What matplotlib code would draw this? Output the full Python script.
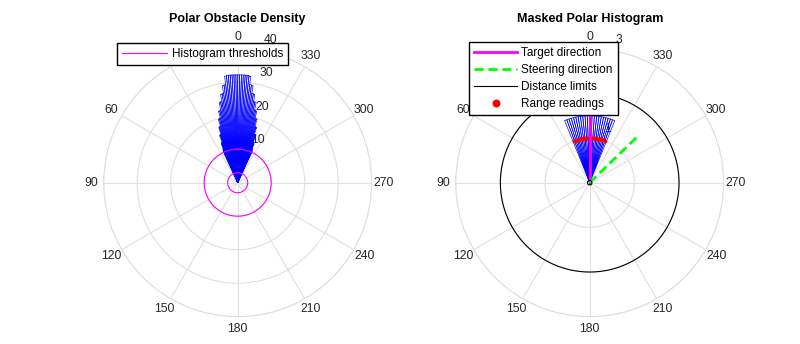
import numpy as np
import matplotlib.pyplot as plt

plt.rcParams['font.family'] = ['Liberation Sans', 'DejaVu Sans']

# polar obstacle density, 1 degree sectors (centres in degrees)
density_angles = [-24.5, -23.5, -22.5, -21.5, -20.5, -19.5, -18.5, -17.5, -16.5, -15.5,
                  -14.5, -13.5, -12.5, -11.5, -10.5, -9.5, -8.5, -7.5, -6.5, -5.5,
                  -4.5, -3.5, -2.5, -1.5, -0.5, 0.5, 1.5, 2.5, 3.5, 4.5,
                  5.5, 6.5, 7.5, 8.5, 9.5, 10.5, 11.5, 12.5, 13.5, 14.5,
                  15.5, 16.5, 17.5, 18.5, 19.5, 20.5, 21.5, 22.5, 23.5, 24.5]
density_values = [10.4, 11.0, 12.6, 13.0, 15.1, 15.3, 17.4, 17.6, 19.8, 20.0,
                  22.1, 22.3, 24.5, 24.7, 26.8, 27.0, 29.3, 29.5, 32.0, 32.2,
                  32.2, 32.2, 32.2, 32.2, 32.2, 32.2, 32.2, 32.2, 32.2, 32.2,
                  32.2, 32.0, 29.5, 29.3, 27.0, 26.8, 24.7, 24.5, 22.3, 22.1,
                  20.0, 19.8, 17.6, 17.4, 15.3, 15.1, 13.0, 12.6, 11.0, 10.4]
hist_thresholds = [3, 10]

# masked (binary) histogram, 2 degree sectors
masked_angles = [-21, -19, -17, -15, -13, -11, -9, -7, -5, -3, -1,
                 1, 3, 5, 7, 9, 11, 13, 15, 17, 19, 21]
masked_values = [1, 1, 1, 1, 1, 1, 1, 1, 1, 1, 1,
                 1, 1, 1, 1, 1, 1, 1, 1, 1, 1, 1]

# range readings
reading_angles = [-20, -19, -18, -17, -16, -15, -14, -13, -12, -11, -10, -9, -8, -7,
                  -6, -5, -4, -3, -2, -1, 0, 1, 2, 3, 4, 5, 6, 7, 8, 9, 10, 11, 12,
                  13, 14, 15, 16, 17, 18, 19, 20]
reading_ranges = [1.0, 1.0, 1.0, 1.0, 1.0, 1.0, 1.0, 1.0, 1.0, 1.0, 1.0, 1.0, 1.0, 1.0,
                  1.0, 1.0, 1.0, 1.0, 1.0, 1.0, 1.0, 1.0, 1.0, 1.0, 1.0, 1.0, 1.0, 1.0,
                  1.0, 1.0, 1.0, 1.0, 1.0, 1.0, 1.0, 1.0, 1.0, 1.0, 1.0, 1.0, 1.0]
distance_limits = [0.05, 2]
target_dir = 0
steering_dir = -46
dir_len = 1.5

theta_ticks = [0, 30, 60, 90, 120, 150, 180, 210, 240, 270, 300, 330]

GRID = '#dfdfdf'
TXT = '#262626'
W, H = 800, 344
RAD = 134
FS = 8.7


def style_polar(ax, rmax, rticks):
    ax.set_theta_zero_location('N')
    ax.set_theta_direction(1)
    ax.set_ylim(0, rmax)
    ax.set_yticks(rticks)
    ax.set_yticklabels([])
    ax.set_xticks(np.deg2rad(theta_ticks))
    ax.set_xticklabels([])
    ax.set_axisbelow(True)
    ax.grid(True, color=GRID, lw=0.8)
    ax.spines['polar'].set_color(GRID)
    ax.spines['polar'].set_linewidth(0.8)
    ax.tick_params(length=0)
    # theta labels, just outside the outer ring
    for d in theta_ticks:
        ax.text(np.deg2rad(d), rmax * 146 / RAD, str(d), ha='center', va='center',
                fontsize=FS, color=TXT, clip_on=False)
    # radial labels
    for r in rticks:
        ax.annotate(str(r), xy=(np.deg2rad(-7), r), xytext=(6.8, 2.6),
                    textcoords='offset points', ha='left', va='bottom',
                    fontsize=FS, color=TXT, zorder=0.8)


def add_polar(cx, cy):
    rect = [(cx - RAD) / W, 1 - (cy + RAD) / H, 2 * RAD / W, 2 * RAD / H]
    return fig.add_axes(rect, projection='polar')


fig = plt.figure(figsize=(8, 3.44), dpi=100)
circ = np.linspace(0, 2 * np.pi, 361)

# ---- left: polar obstacle density
ax1 = add_polar(237.7, 182.7)
style_polar(ax1, 40, [10, 20, 30, 40])
ax1.bar(np.deg2rad(density_angles), density_values, width=np.deg2rad(1), bottom=0,
        fill=False, edgecolor='blue', linewidth=0.5, zorder=1)
th_line = None
for t in hist_thresholds:
    th_line, = ax1.plot(circ, np.full_like(circ, t), color='magenta', lw=0.8, zorder=2)
ax1.legend([th_line], ['Histogram thresholds'], loc='upper left',
           bbox_to_anchor=(117.3 / W, 1 - 42.7 / H), bbox_transform=fig.transFigure,
           fontsize=8.5, fancybox=False, edgecolor='black', framealpha=1,
           borderpad=0.42, handlelength=3.8, handletextpad=0.4, borderaxespad=0)
fig.text(237.7 / W, 1 - 19 / H, 'Polar Obstacle Density', ha='center', va='center',
         fontsize=9, fontweight='bold', color='black')

# ---- right: masked polar histogram
ax2 = add_polar(589.7, 182.7)
style_polar(ax2, 3, [1, 2, 3])
ax2.bar(np.deg2rad(masked_angles), np.array(masked_values) * dir_len, width=np.deg2rad(2),
        bottom=0, fill=False, edgecolor='blue', linewidth=0.5, zorder=1)
rr, = ax2.plot(np.deg2rad(reading_angles), reading_ranges, 'o', color='red', ms=2.6,
               mew=0, zorder=3)
tg, = ax2.plot([np.deg2rad(target_dir)] * 2, [0, dir_len], color='magenta', lw=2, zorder=4)
st, = ax2.plot([np.deg2rad(steering_dir)] * 2, [0, dir_len], color=(0, 1, 0), lw=2,
               linestyle=(0, (3.3, 1.7)), zorder=4)
dl = None
for d in distance_limits:
    dl, = ax2.plot(circ, np.full_like(circ, d), color='black', lw=0.8, zorder=5)
ax2.legend([tg, st, dl, rr], ['Target direction', 'Steering direction', 'Distance limits',
                              'Range readings'], loc='upper left',
           bbox_to_anchor=(469.3 / W, 1 - 42.3 / H), bbox_transform=fig.transFigure,
           fontsize=8.5, fancybox=False, edgecolor='black', framealpha=1, markerscale=2.2,
           borderpad=0.42, handlelength=3.6, handletextpad=0.4, labelspacing=0.42,
           borderaxespad=0)
fig.text(589.7 / W, 1 - 19 / H, 'Masked Polar Histogram', ha='center', va='center',
         fontsize=9, fontweight='bold', color='black')

fig.savefig('out.png', dpi=100)
